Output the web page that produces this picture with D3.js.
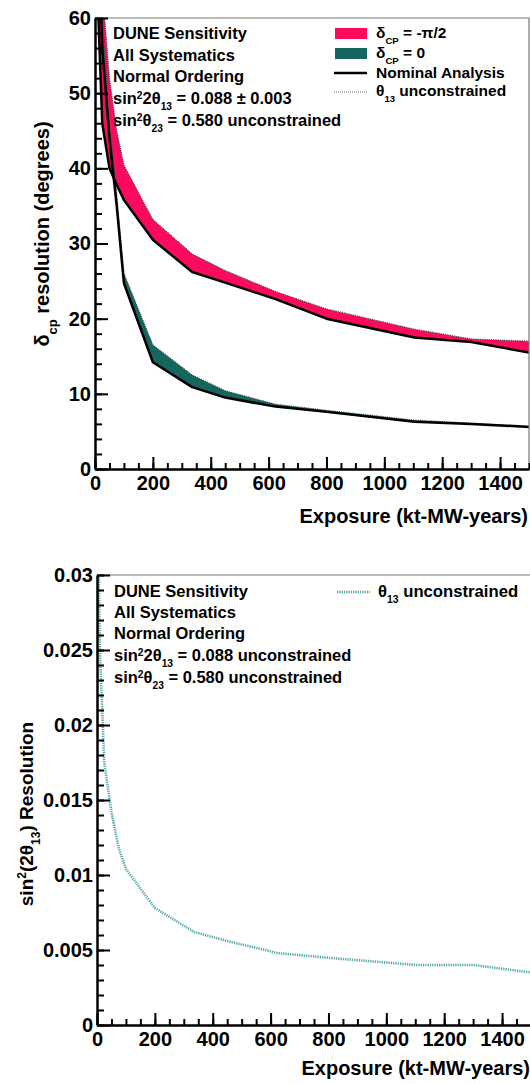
<!DOCTYPE html>
<html>
<head>
<meta charset="utf-8">
<script src="https://cdn.jsdelivr.net/npm/d3@7"></script>
<style>
  body { margin: 0; background: #fff; }
  svg { display: block; font-family: "Liberation Sans", Arial, Helvetica, sans-serif; font-weight: bold; }
  .axis text { font-size: 20px; font-weight: bold; fill: #000; }
  .axis path, .axis line { stroke: #000; stroke-width: 2; }
</style>
</head>
<body>
<svg width="530" height="1084"></svg>
<script>
// top panel: delta_CP resolution vs exposure
var exposure = [10, 25, 50, 75, 100, 200, 336, 450, 624, 800, 1104, 1300, 1500];
var pinkNominal = [62, 46, 40, 37.8, 35.8, 30.5, 26.2, 24.8, 22.6, 20.0, 17.5, 16.9, 15.5];
var pinkUnconstrained = [80, 64, 52, 45, 40.4, 33.2, 28.6, 26.4, 23.6, 21.3, 18.6, 17.3, 17.0];
var tealNominal = [75, 56, 44, 35, 24.7, 14.2, 10.9, 9.5, 8.3, 7.6, 6.3, 6.0, 5.6];
var tealUnconstrained = [78, 60, 46, 36.5, 26, 16.5, 12.5, 10.4, 8.6, 7.8, 6.5, 6.1, 5.7];

// bottom panel: sin^2(2theta13) resolution
var exposure13 = [3, 10, 25, 50, 75, 100, 200, 336, 450, 624, 800, 1104, 1300, 1500];
var th13Res = [0.034, 0.025, 0.0175, 0.0142, 0.0118, 0.0104, 0.0078, 0.0062, 0.0056, 0.0048, 0.00448, 0.0040, 0.0040, 0.0035];

var xTicks = [0, 200, 400, 600, 800, 1000, 1200, 1400];
var yTicksTop = [0, 10, 20, 30, 40, 50, 60];
var yTicksBot = [0, 0.005, 0.01, 0.015, 0.02, 0.025, 0.03];
var yLabelsBot = ["0", "0.005", "0.01", "0.015", "0.02", "0.025", "0.03"];

var pink = "#fb0a5f", teal = "#15665f", lightTeal = "#5aaaa8";

var svg = d3.select("svg");

function drawAxes(x, y, yMinor, yLabels) {
  var g = svg.append("g");
  var y0 = y.range()[0], y1 = y.range()[1];
  var x0 = x.range()[0], x1 = x.range()[1];

  // frame (top / right)
  g.append("path")
    .attr("d", "M" + x0 + "," + y1 + "H" + x1 + "V" + y0)
    .attr("fill", "none").attr("stroke", "#777").attr("stroke-width", 1.2);

  // minor ticks
  g.append("g").attr("class", "axis")
    .attr("transform", "translate(0," + y0 + ")")
    .call(d3.axisBottom(x).tickValues(d3.range(0, 1501, 50)).tickSize(-6).tickSizeOuter(0).tickFormat(""));
  g.append("g").attr("class", "axis")
    .attr("transform", "translate(" + x0 + ",0)")
    .call(d3.axisLeft(y).tickValues(yMinor).tickSize(-7).tickSizeOuter(0).tickFormat(""));

  // major ticks + labels
  g.append("g").attr("class", "axis")
    .attr("transform", "translate(0," + y0 + ")")
    .call(d3.axisBottom(x).tickValues(xTicks).tickSize(-12).tickSizeOuter(0).tickPadding(7).tickFormat(d3.format("d")));
  var ya = d3.axisLeft(y).tickSize(-13).tickSizeOuter(0).tickPadding(4)
    .tickValues(yLabels.values).tickFormat(function(d, i) { return yLabels.text[i]; });
  g.append("g").attr("class", "axis")
    .attr("transform", "translate(" + x0 + ",0)")
    .call(ya);
}

function textBlock(x, baselines, lines, size) {
  lines.forEach(function(parts, i) {
    var t = svg.append("text").attr("x", x).attr("y", baselines[i]).attr("font-size", size);
    parts.forEach(function(p) {
      var s = t.append("tspan").text(p[0]);
      if (p[1] == "sup") s.attr("baseline-shift", "super").attr("font-size", size * 0.62);
      if (p[1] == "sub") s.attr("baseline-shift", "sub").attr("font-size", size * 0.62);
    });
  });
}

// ---------------- top panel ----------------
var x = d3.scaleLinear().domain([0, 1500]).range([95, 529]);
var y = d3.scaleLinear().domain([0, 60]).range([469, 18]);

svg.append("clipPath").attr("id", "clipTop")
  .append("rect").attr("x", 95).attr("y", 18).attr("width", 434).attr("height", 451);

var gTop = svg.append("g").attr("clip-path", "url(#clipTop)");

var band = d3.area()
  .x(function(d) { return x(d.e); })
  .y0(function(d) { return y(d.lo); })
  .y1(function(d) { return y(d.hi); });
var line = d3.line()
  .x(function(d) { return x(d[0]); })
  .y(function(d) { return y(d[1]); });

var pinkData = exposure.map(function(e, i) { return {e: e, lo: pinkNominal[i], hi: pinkUnconstrained[i]}; });
var tealData = exposure.map(function(e, i) { return {e: e, lo: tealNominal[i], hi: tealUnconstrained[i]}; });

gTop.append("path").datum(pinkData).attr("d", band).attr("fill", pink);
gTop.append("path").datum(tealData).attr("d", band).attr("fill", teal);

[pinkUnconstrained, tealUnconstrained].forEach(function(s) {
  gTop.append("path").datum(d3.zip(exposure, s)).attr("d", line)
    .attr("fill", "none").attr("stroke", "#444").attr("stroke-width", 1.3).attr("stroke-dasharray", "1,1.2");
});
[pinkNominal, tealNominal].forEach(function(s) {
  gTop.append("path").datum(d3.zip(exposure, s)).attr("d", line)
    .attr("fill", "none").attr("stroke", "#000").attr("stroke-width", 2.5).attr("stroke-linejoin", "round");
});

drawAxes(x, y, d3.range(0, 61, 2), {values: yTicksTop, text: yTicksTop.map(String)});

svg.append("text").attr("x", 528).attr("y", 523).attr("text-anchor", "end")
  .attr("font-size", 20).text("Exposure (kt-MW-years)");

var yt = svg.append("text").attr("transform", "translate(49,234) rotate(-90)")
  .attr("text-anchor", "middle").attr("font-size", 20);
yt.append("tspan").text("δ");
yt.append("tspan").attr("baseline-shift", "sub").attr("font-size", 13).text("cp");
yt.append("tspan").text(" resolution (degrees)");

textBlock(113, [39, 61, 82, 104, 126], [
  [["DUNE Sensitivity"]],
  [["All Systematics"]],
  [["Normal Ordering"]],
  [["sin"], ["2", "sup"], ["2θ"], ["13", "sub"], [" = 0.088 ± 0.003"]],
  [["sin"], ["2", "sup"], ["θ"], ["23", "sub"], [" = 0.580 unconstrained"]]
], 16.5);

// legend
var lg = svg.append("g");
lg.append("rect").attr("x", 335).attr("y", 28).attr("width", 32).attr("height", 11).attr("fill", pink);
lg.append("rect").attr("x", 335).attr("y", 48).attr("width", 32).attr("height", 11).attr("fill", teal);
lg.append("line").attr("x1", 334).attr("x2", 367).attr("y1", 73).attr("y2", 73)
  .attr("stroke", "#000").attr("stroke-width", 2.5);
lg.append("line").attr("x1", 334).attr("x2", 367).attr("y1", 92).attr("y2", 92)
  .attr("stroke", "#666").attr("stroke-width", 1.2).attr("stroke-dasharray", "1,1");
textBlock(376, [38, 58, 78, 96], [
  [["δ"], ["CP", "sub"], [" = -π/2"]],
  [["δ"], ["CP", "sub"], [" = 0"]],
  [["Nominal Analysis"]],
  [["θ"], ["13", "sub"], [" unconstrained"]]
], 15.5);

// ---------------- bottom panel ----------------
var x2 = d3.scaleLinear().domain([0, 1500]).range([97, 531]);
var y2 = d3.scaleLinear().domain([0, 0.03]).range([1025, 575]);

svg.append("clipPath").attr("id", "clipBot")
  .append("rect").attr("x", 97).attr("y", 575).attr("width", 434).attr("height", 450);

svg.append("g").attr("clip-path", "url(#clipBot)")
  .append("path").datum(d3.zip(exposure13, th13Res))
  .attr("d", d3.line().x(function(d) { return x2(d[0]); }).y(function(d) { return y2(d[1]); }))
  .attr("fill", "none").attr("stroke", lightTeal).attr("stroke-width", 2.6).attr("stroke-dasharray", "1.3,1");

drawAxes(x2, y2, d3.range(0, 0.0301, 0.001), {values: yTicksBot, text: yLabelsBot});

svg.append("text").attr("x", 530).attr("y", 1075).attr("text-anchor", "end")
  .attr("font-size", 20).text("Exposure (kt-MW-years)");

var yt2 = svg.append("text").attr("transform", "translate(33,814) rotate(-90)")
  .attr("text-anchor", "middle").attr("font-size", 19);
yt2.append("tspan").text("sin");
yt2.append("tspan").attr("baseline-shift", "super").attr("font-size", 12).text("2");
yt2.append("tspan").text("(2θ");
yt2.append("tspan").attr("baseline-shift", "sub").attr("font-size", 12).text("13");
yt2.append("tspan").text(") Resolution");

textBlock(114, [597, 618, 639, 661, 683], [
  [["DUNE Sensitivity"]],
  [["All Systematics"]],
  [["Normal Ordering"]],
  [["sin"], ["2", "sup"], ["2θ"], ["13", "sub"], [" = 0.088 unconstrained"]],
  [["sin"], ["2", "sup"], ["θ"], ["23", "sub"], [" = 0.580 unconstrained"]]
], 16.5);

svg.append("line").attr("x1", 337).attr("x2", 370).attr("y1", 592).attr("y2", 592)
  .attr("stroke", lightTeal).attr("stroke-width", 2.6).attr("stroke-dasharray", "1.3,1");
textBlock(378, [597], [
  [["θ"], ["13", "sub"], [" unconstrained"]]
], 16.7);
</script>
</body>
</html>
